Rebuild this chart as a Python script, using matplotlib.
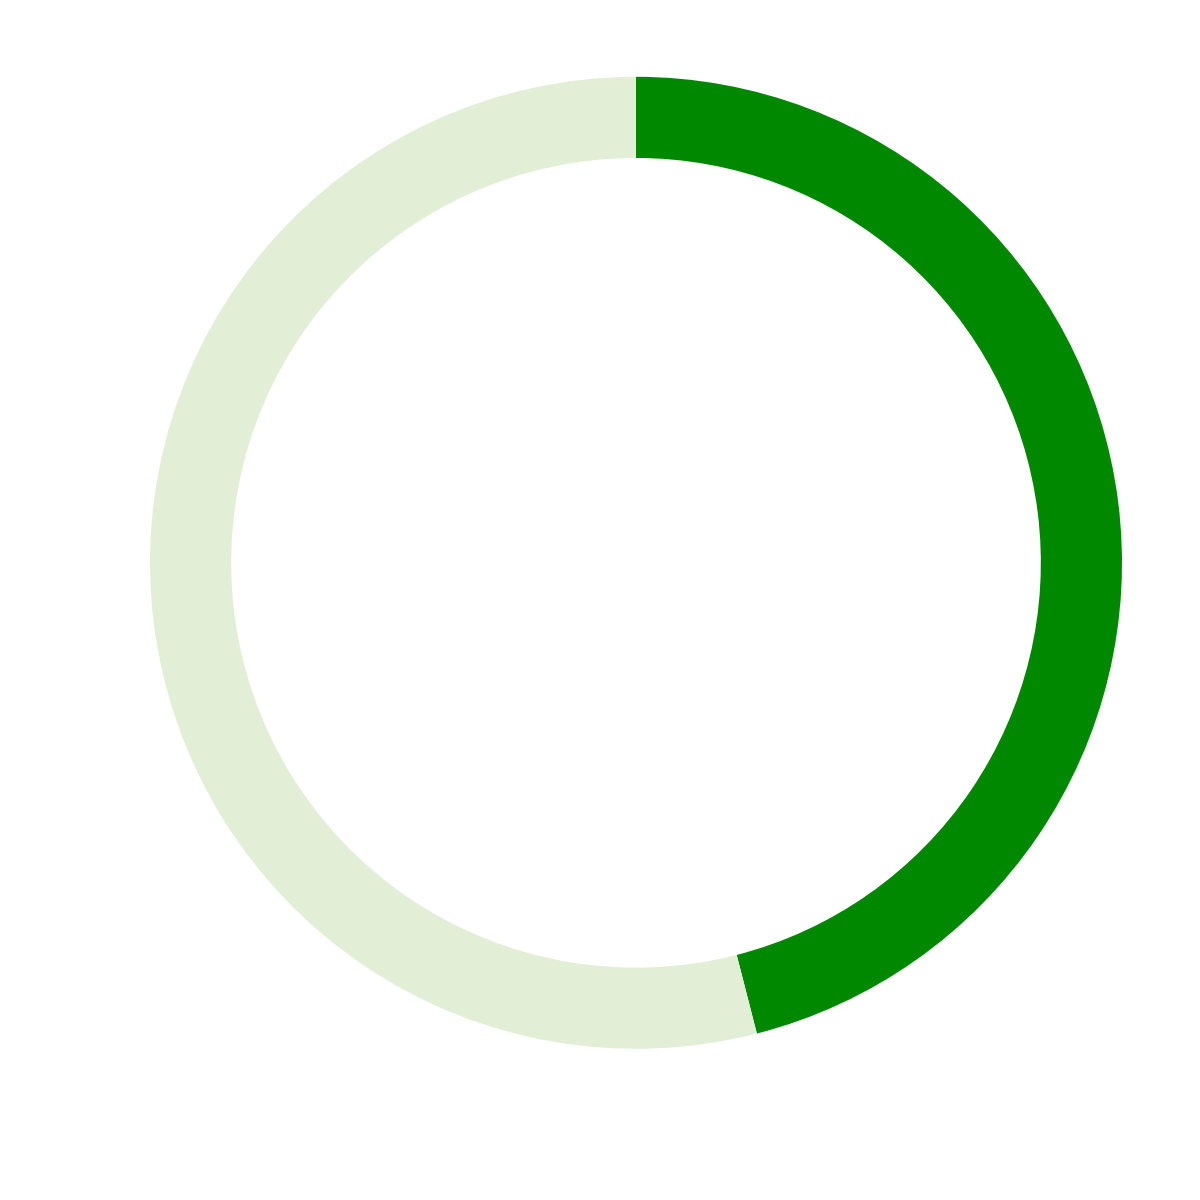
import matplotlib.pyplot as plt

# progress donut: filled share vs remainder
labels = ['Done', 'Remaining']
values = [46, 54]
colors = ['#008800', '#e2efd6']

fig = plt.figure(figsize=(12, 12), dpi=100)
ax = fig.add_axes([0.125, 0.126, 0.81, 0.81])

ax.pie(values, colors=colors, startangle=90, counterclock=False,
       radius=1.0, wedgeprops=dict(width=0.167, linewidth=0))
ax.set_xlim(-1, 1)
ax.set_ylim(-1, 1)
ax.set_aspect('equal')
ax.axis('off')

fig.savefig('out.png', dpi=100, facecolor='white')
